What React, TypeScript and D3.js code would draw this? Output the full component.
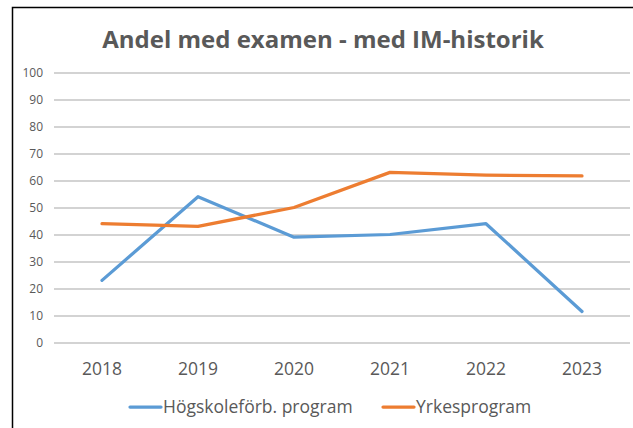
import React, { useEffect, useRef } from 'react';
import * as d3 from 'd3';

const years = ['2018', '2019', '2020', '2021', '2022', '2023'];
const hogskoleforb = [23, 54, 39, 40, 44, 11.5];
const yrkesprogram = [44, 43, 50, 63, 62, 61.7];
const yTicks = [0, 10, 20, 30, 40, 50, 60, 70, 80, 90, 100];
const seriesNames = ['Högskoleförb. program', 'Yrkesprogram'];
const seriesColors = ['#5B9BD5', '#ED7D31'];

const FONT = '"Open Sans", "Liberation Sans", sans-serif';

const App = () => {
  const svgRef = useRef<SVGSVGElement>(null);

  useEffect(() => {
    const svg = d3.select(svgRef.current);
    svg.selectAll('*').remove();

    const width = 633;
    const height = 428;

    svg.append('rect')
      .attr('width', width)
      .attr('height', height)
      .attr('fill', 'white');

    // Rahmen
    svg.append('rect')
      .attr('x', 12.5)
      .attr('y', 7.5)
      .attr('width', 700)
      .attr('height', 500)
      .attr('fill', 'none')
      .attr('stroke', '#000')
      .attr('stroke-width', 1.5);

    const x = d3.scaleBand()
      .domain(years)
      .range([54, 630]);

    const y = d3.scaleLinear()
      .domain([0, 100])
      .range([342.5, 72.5]);

    // Titel
    svg.append('text')
      .attr('x', 323)
      .attr('y', 48)
      .attr('text-anchor', 'middle')
      .style('font-family', FONT)
      .style('font-size', '24px')
      .style('font-weight', 'bold')
      .style('fill', '#595959')
      .text('Andel med examen - med IM-historik');

    // Gitterlinien + y-Achse
    const yAxis = svg.append('g')
      .attr('transform', 'translate(54,0)')
      .call(d3.axisLeft(y).tickValues(yTicks).tickSize(-(630 - 54)).tickPadding(11));
    yAxis.select('.domain').remove();
    yAxis.selectAll('line')
      .attr('stroke', '#C4C4C4')
      .attr('stroke-width', 1.5);
    yAxis.selectAll('text')
      .style('font-family', FONT)
      .style('font-size', '12px')
      .style('fill', '#595959');

    // x-Achse
    const xAxis = svg.append('g')
      .attr('transform', `translate(0,${y(0)})`)
      .call(d3.axisBottom(x).tickSize(0).tickPadding(20));
    xAxis.select('.domain').remove();
    xAxis.selectAll('text')
      .style('font-family', FONT)
      .style('font-size', '17.5px')
      .style('fill', '#595959');

    const line = d3.line<number>()
      .x((d, i) => (x(years[i]) ?? 0) + x.bandwidth() / 2)
      .y(d => y(d));

    [hogskoleforb, yrkesprogram].forEach((values, i) => {
      svg.append('path')
        .datum(values)
        .attr('fill', 'none')
        .attr('stroke', seriesColors[i])
        .attr('stroke-width', 3.25)
        .attr('stroke-linejoin', 'round')
        .attr('stroke-linecap', 'round')
        .attr('d', line);
    });

    // Legende
    const legendX = [130, 383];
    const legend = svg.append('g');
    seriesNames.forEach((name, i) => {
      legend.append('line')
        .attr('x1', legendX[i])
        .attr('x2', legendX[i] + 31)
        .attr('y1', 407)
        .attr('y2', 407)
        .attr('stroke', seriesColors[i])
        .attr('stroke-width', 3.25)
        .attr('stroke-linecap', 'round');
      legend.append('text')
        .attr('x', legendX[i] + 33)
        .attr('y', 413)
        .style('font-family', FONT)
        .style('font-size', '17.5px')
        .style('fill', '#595959')
        .text(name);
    });
  }, []);

  return (
    <svg
      ref={svgRef}
      width={633}
      height={428}
      style={{ position: 'absolute', left: 0, top: 0 }}
    />
  );
};

export default App;
